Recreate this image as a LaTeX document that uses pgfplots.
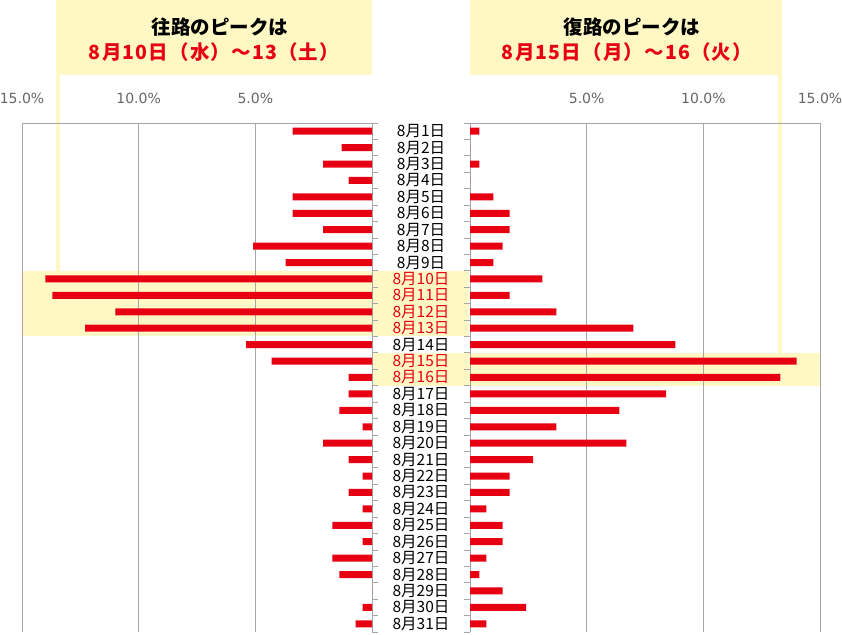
\documentclass[border=0pt]{standalone}
\usepackage{fontspec}
\setmainfont{Noto Sans CJK JP}
\newfontfamily\tickfont{DejaVu Sans}
\usepackage{pgfplots}
\usepackage{pgfplotstable}
\pgfplotsset{compat=1.18}

\definecolor{barred}{HTML}{E60012}
\definecolor{cream}{HTML}{FFF8C4}
\definecolor{linegray}{HTML}{A6A6A6}
\definecolor{labelgray}{HTML}{666666}

% day, outbound share (%), return share (%)
\pgfplotstableread{
day out ret
1  3.4  0.4
2  1.3  0.0
3  2.1  0.4
4  1.0  0.0
5  3.4  1.0
6  3.4  1.7
7  2.1  1.7
8  5.1  1.4
9  3.7  1.0
10 14.0 3.1
11 13.7 1.7
12 11.0 3.7
13 12.3 7.0
14 5.4  8.8
15 4.3  14.0
16 1.0  13.3
17 1.0  8.4
18 1.4  6.4
19 0.4  3.7
20 2.1  6.7
21 1.0  2.7
22 0.4  1.7
23 1.0  1.7
24 0.4  0.7
25 1.7  1.4
26 0.4  1.4
27 1.7  0.7
28 1.4  0.4
29 0.0  1.4
30 0.4  2.4
31 0.7  0.7
}\trafficdata

\pgfplotsset{
  halfchart/.style={
    scale only axis, width=350pt, height=509pt,
    xbar, bar width=7pt, bar shift=0pt,
    y dir=reverse, xmin=0, xmax=15, ymin=0.5, ymax=31.5,
    clip=false, set layers,
    xtick={0,5,10,15}, xticklabels={,5.0\%,10.0\%,15.0\%},
    xmajorgrids, grid style={linegray, line width=0.8pt},
    xtick style={draw=none},
    axis line style={linegray, line width=0.8pt},
    ytick={0.5,1.5,...,31.5}, yticklabels={},
    ytick style={linegray, line width=0.8pt},
    tick align=outside, major tick length=6pt,
    xticklabel style={font=\tickfont\fontsize{14}{14}\selectfont, text=labelgray},
    xticklabel shift=10pt,
  },
}
\tikzset{titlefont/.style={font=\bfseries\fontsize{19.5}{19.5}\selectfont},
  peakfont/.style={font=\bfseries\fontsize{19.5}{19.5}\selectfont\addfontfeatures{LetterSpace=6}}}

\begin{document}
\begin{tikzpicture}
% outbound (left, mirrored)
\begin{axis}[halfchart, at={(22pt,2pt)}, anchor=south west,
    x dir=reverse, axis x line*=top, axis y line*=right]
  \begin{pgfonlayer}{axis background}
    \fill[cream] (axis cs:0,-6.99) rectangle (axis cs:13.54,-2.42);
    \fill[cream] (axis cs:13.37,-2.42) rectangle (axis cs:13.54,9.5);
    \fill[cream] (axis cs:-4.16,9.5) rectangle (axis cs:15,13.5);
  \end{pgfonlayer}
  \addplot[fill=barred, draw=none] table[x=out, y=day] {\trafficdata};
  \node[titlefont] at (axis cs:6.51,-5.35) {往路のピークは};
  \node[peakfont, text=barred] at (axis cs:6.77,-3.82) {8月10日（水）～13（土）};
\end{axis}

% return (right)
\begin{axis}[halfchart, at={(470pt,2pt)}, anchor=south west,
    axis x line*=top, axis y line*=left,
    extra y ticks={1,...,31},
    extra y tick labels={8月1日,8月2日,8月3日,8月4日,8月5日,8月6日,8月7日,8月8日,8月9日,
      \textcolor{barred}{8月10日},\textcolor{barred}{8月11日},\textcolor{barred}{8月12日},\textcolor{barred}{8月13日},
      8月14日,\textcolor{barred}{8月15日},\textcolor{barred}{8月16日},
      8月17日,8月18日,8月19日,8月20日,8月21日,8月22日,8月23日,8月24日,8月25日,
      8月26日,8月27日,8月28日,8月29日,8月30日,8月31日},
    extra y tick style={major tick length=0pt, tick style={draw=none},
      yticklabel style={anchor=center, xshift=-49pt, font=\fontsize{15.5}{15.5}\selectfont}}]
  \begin{pgfonlayer}{axis background}
    \fill[cream] (axis cs:0,-6.99) rectangle (axis cs:13.38,-2.42);
    \fill[cream] (axis cs:13.2,-2.42) rectangle (axis cs:13.38,14.5);
    \fill[cream] (axis cs:-4.15,14.5) rectangle (axis cs:15,16.5);
  \end{pgfonlayer}
  \addplot[fill=barred, draw=none] table[x=ret, y=day] {\trafficdata};
  \node[titlefont] at (axis cs:6.94,-5.35) {復路のピークは};
  \node[peakfont, text=barred] at (axis cs:6.73,-3.82) {8月15日（月）～16（火）};
\end{axis}
\pgfresetboundingbox
\path (0,0) rectangle (842pt,634pt);
\end{tikzpicture}
\end{document}
